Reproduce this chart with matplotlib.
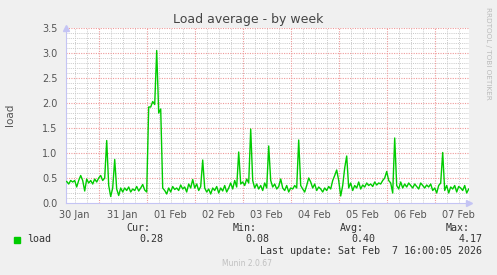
import numpy as np
import matplotlib
matplotlib.use('Agg')
import matplotlib.pyplot as plt

# hourly load samples, first one at 30 Jan 08:00, last at 7 Feb 16:00
start_hour = 8  # hours after 30 Jan 00:00
load = [
    0.43, 0.38, 0.45, 0.42, 0.45, 0.32, 0.45, 0.55, 0.45, 0.24, 0.48, 0.40, 0.45, 0.38, 0.48, 0.42, 0.50, 0.55, 0.45, 0.50,
    1.25, 0.35, 0.13, 0.30, 0.87, 0.28, 0.15, 0.30, 0.22, 0.30, 0.25, 0.32, 0.22, 0.28, 0.25, 0.33, 0.24, 0.30, 0.37, 0.26, 0.22,
    1.92, 1.92, 2.03, 1.97, 3.05, 1.80, 1.88,
    0.30, 0.25, 0.18, 0.30, 0.22, 0.33, 0.27, 0.30, 0.25, 0.36, 0.28, 0.32, 0.22, 0.38, 0.30,
    0.47, 0.30, 0.38, 0.25, 0.33,
    0.86,
    0.30, 0.22, 0.28, 0.18, 0.30, 0.25, 0.33, 0.20, 0.30, 0.24, 0.35, 0.22, 0.30, 0.40, 0.28, 0.45, 0.32,
    1.02,
    0.38, 0.42, 0.35, 0.48, 0.40,
    1.48,
    0.45, 0.30, 0.38, 0.28, 0.35, 0.25, 0.40, 0.30,
    1.14,
    0.45, 0.32, 0.38, 0.28, 0.33, 0.48, 0.30, 0.25, 0.35, 0.22, 0.30, 0.28, 0.35, 0.30,
    1.26,
    0.35, 0.28, 0.22, 0.35, 0.50, 0.42, 0.30, 0.38, 0.25, 0.32, 0.28, 0.22, 0.30, 0.25, 0.33, 0.28, 0.45, 0.55,
    0.66, 0.45, 0.14, 0.35, 0.70, 0.94,
    0.30, 0.40, 0.25, 0.35, 0.30, 0.42, 0.28, 0.36, 0.32, 0.40, 0.35, 0.38, 0.33, 0.42, 0.36, 0.40, 0.38, 0.45, 0.50,
    0.63, 0.45, 0.40, 0.20, 1.30,
    0.35, 0.28, 0.42, 0.30, 0.38, 0.32, 0.40, 0.35, 0.30, 0.38, 0.33, 0.28, 0.40, 0.35, 0.30, 0.36, 0.32, 0.38, 0.25, 0.30, 0.20, 0.35, 0.40,
    1.01,
    0.25, 0.35, 0.20, 0.32, 0.28, 0.35, 0.22, 0.33, 0.30, 0.25, 0.35, 0.20, 0.28,
]
day_labels = ['30 Jan', '31 Jan', '01 Feb', '02 Feb', '03 Feb', '04 Feb', '05 Feb', '06 Feb', '07 Feb']
y_ticks = [0.0, 0.5, 1.0, 1.5, 2.0, 2.5, 3.0, 3.5]
stats_names = ['Cur:', 'Min:', 'Avg:', 'Max:']
stats_values = ['0.28', '0.08', '0.40', '4.17']
last_update = 'Last update: Sat Feb  7 16:00:05 2026'

W, H = 497, 275
BG = '#F0F0F0'
GREEN = '#00CC00'
AXIS = '#C4C4F4'
TXT = '#555555'

fig = plt.figure(figsize=(W / 100, H / 100), dpi=100, facecolor=BG)


def fx(x):
    return x / W


def fy(y):
    return 1 - y / H


left, right, top, bottom = 66, 469, 28, 203
ax = fig.add_axes([fx(left), fy(bottom), (right - left) / W, (bottom - top) / H])
ax.set_facecolor('white')

# x in hours since 30 Jan 00:00; 2 px per hour, 31 Jan 00:00 at x=98.7
x0 = 24 - (98.7 - left) / 2
x1 = 24 + (right - 98.7) / 2
ax.set_xlim(x0, x1)
ax.set_ylim(0, 3.5)

# grid: minor grey, major red
for h in np.arange(6, x1, 6):
    if h % 24 == 0:
        continue
    ax.axvline(h, color='#C8C8C8', lw=0.7, ls=(0, (1, 1.2)), zorder=1)
for v in np.arange(0.1, 3.51, 0.1):
    if abs(v / 0.5 - round(v / 0.5)) < 1e-6:
        continue
    ax.axhline(v, color='#C8C8C8', lw=0.7, ls=(0, (1, 1.2)), zorder=1)
for h in np.arange(24, x1, 24):
    ax.axvline(h, color='#EE9A9A', lw=0.8, ls=(0, (1, 1.2)), zorder=2)
for v in y_ticks[1:]:
    ax.axhline(v, color='#EE9A9A', lw=0.8, ls=(0, (1, 1.2)), zorder=2)

hours = start_hour + np.arange(len(load))
ax.plot(hours, load, color=GREEN, lw=1.0, zorder=3)

ax.set_xticks([12 + 24 * i for i in range(len(day_labels))])
ax.set_xticklabels(day_labels)
ax.set_yticks(y_ticks)
ax.set_yticklabels([f'{v:.1f}' for v in y_ticks])
ax.tick_params(axis='both', length=0, labelsize=7, colors=TXT, pad=6)
ax.tick_params(axis='x', pad=5)

for s in ['top', 'right']:
    ax.spines[s].set_visible(False)
for s in ['left', 'bottom']:
    ax.spines[s].set_color(AXIS)
    ax.spines[s].set_linewidth(0.8)
ax.plot(0, 1.0, marker='^', color=AXIS, ms=5, transform=ax.transAxes, clip_on=False)
ax.plot(1.0, 0, marker='>', color=AXIS, ms=5, transform=ax.transAxes, clip_on=False)

fig.text(fx(10), fy(115), 'load', rotation=90, ha='center', va='center', fontsize=7.5, color=TXT)

fig.text(fx(248), fy(19), 'Load average - by week', ha='center', va='center',
         fontsize=9, color='#444444')
fig.text(fx(488), fy(53), 'RRDTOOL / TOBI OETIKER', ha='center', va='center',
         rotation=270, fontsize=5.2, color='#BBBBBB')

# legend
mono = 'DejaVu Sans Mono'
fig.patches.append(plt.Rectangle((fx(14), fy(243)), 6 / W, 6 / H, transform=fig.transFigure,
                                 color=GREEN, figure=fig))
fig.text(fx(27), fy(239.5), 'load', family=mono, fontsize=7.2, color='#333333', va='center')
name_right = [150, 257, 363.5, 470]
val_right = [163, 269.5, 375.5, 482.5]
for n, v, xn, xv in zip(stats_names, stats_values, name_right, val_right):
    fig.text(fx(xn), fy(228), n, family=mono, fontsize=7.2, color='#333333', ha='right', va='center')
    fig.text(fx(xv), fy(239.5), v, family=mono, fontsize=7.2, color='#333333', ha='right', va='center')
fig.text(fx(482.5), fy(251), last_update, family=mono, fontsize=7.2, color='#333333', ha='right', va='center')
fig.text(fx(247.5), fy(264), 'Munin 2.0.67', fontsize=5.5, color='#C0C0C0', ha='center', va='center')

fig.savefig('out.png', dpi=100, facecolor=BG)
